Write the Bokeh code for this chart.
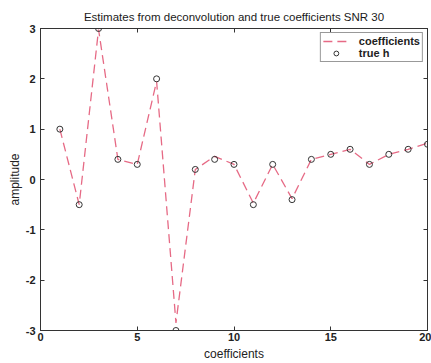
from bokeh.plotting import figure
from bokeh.embed import file_html
from bokeh.resources import INLINE
from bokeh.models import Range1d, LinearAxis, Legend, LegendItem, FixedTicker

idx = list(range(1, 21))
true_h = [1.0, -0.5, 3.0, 0.4, 0.3, 2.0, -3.0, 0.2, 0.4, 0.3,
          -0.5, 0.3, -0.4, 0.4, 0.5, 0.6, 0.3, 0.5, 0.6, 0.7]
estimates = [1.0, -0.5, 2.98, 0.4, 0.3, 1.95, -2.85, 0.2, 0.46, 0.3,
             -0.47, 0.3, -0.38, 0.4, 0.5, 0.6, 0.3, 0.5, 0.6, 0.72]
x_ticks = [0, 5, 10, 15, 20]
y_ticks = [-3, -2, -1, 0, 1, 2, 3]
y_tick_labels = {-3: "-3", -2: "-2", -1: "-1", 0: "0", 1: "1", 2: "2", 3: "3"}

FONT = "Liberation Sans"

p = figure(width=431, height=363, output_backend="svg", toolbar_location=None,
           x_range=Range1d(0, 20), y_range=Range1d(-3, 3),
           min_border_left=40, min_border_right=4, min_border_top=28, min_border_bottom=33,
           title="Estimates from deconvolution and true coefficients SNR 30")
p.title.align = "center"
p.title.text_font = FONT
p.title.text_font_size = "11.5px"
p.title.text_font_style = "normal"
p.title.text_color = "#1a1a1a"
p.title.offset = 0
p.title.standoff = 12

p.xgrid.visible = False
p.ygrid.visible = False
p.outline_line_color = "#333333"
p.outline_line_width = 1
p.background_fill_color = "white"
p.border_fill_color = "white"

bottom_ax = p.below[0]
left_ax = p.left[0]

right_ax = LinearAxis(ticker=FixedTicker(ticks=y_ticks))
top_ax = LinearAxis(ticker=FixedTicker(ticks=x_ticks))
p.add_layout(right_ax, "right")
p.add_layout(top_ax, "above")
for ax in (right_ax, top_ax):
    ax.major_label_text_font_size = "1px"
    ax.major_label_text_color = None
    ax.major_label_standoff = 0
    ax.major_tick_in = 4
    ax.major_tick_out = 0
    ax.minor_tick_in = 0
    ax.minor_tick_out = 0
    ax.axis_line_color = "#333333"
    ax.major_tick_line_color = "#333333"

for ax in (bottom_ax, left_ax):
    ax.major_tick_in = 4
    ax.major_tick_out = 0
    ax.minor_tick_in = 0
    ax.minor_tick_out = 0
    ax.axis_line_color = "#333333"
    ax.major_tick_line_color = "#333333"
    ax.major_label_text_font = FONT
    ax.major_label_text_font_size = "11px"
    ax.major_label_text_font_style = "bold"
    ax.major_label_text_color = "#222222"
    ax.axis_label_text_font = FONT
    ax.axis_label_text_font_size = "12px"
    ax.axis_label_text_font_style = "normal"
    ax.axis_label_text_color = "#222222"

bottom_ax.ticker = FixedTicker(ticks=x_ticks)
left_ax.ticker = FixedTicker(ticks=y_ticks)
left_ax.major_label_overrides = y_tick_labels
bottom_ax.axis_label = "coefficients"
left_ax.axis_label = "amplitude"
bottom_ax.major_label_standoff = 2
left_ax.major_label_standoff = 5
bottom_ax.axis_label_standoff = 3
left_ax.axis_label_standoff = 1

line_r = p.line(idx, estimates, line_color="#e66a85", line_width=1.3, line_dash="9 5")
circ_r = p.scatter(idx, true_h, marker="circle", size=6, fill_color=None,
                   line_color="#333333", line_width=1)

legend = Legend(items=[LegendItem(label="coefficients", renderers=[line_r]),
                       LegendItem(label="true h", renderers=[circ_r])],
                location="top_right")
legend.label_text_font = FONT
legend.label_text_font_size = "11px"
legend.label_text_font_style = "bold"
legend.label_text_color = "#222222"
legend.border_line_color = "#333333"
legend.border_line_width = 1
legend.margin = 4
legend.padding = 2
legend.spacing = 0
legend.label_height = 12
legend.glyph_height = 12
legend.glyph_width = 26
legend.label_standoff = 10
legend.background_fill_alpha = 1.0
p.add_layout(legend)

open("out.html", "w").write(file_html(p, INLINE))
